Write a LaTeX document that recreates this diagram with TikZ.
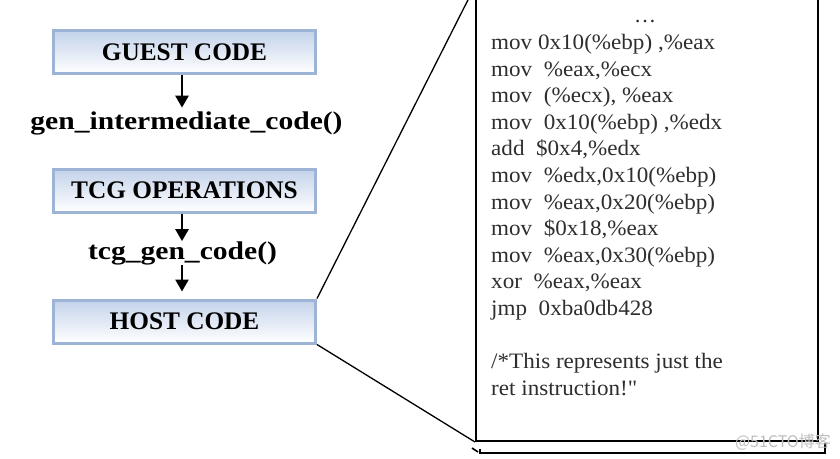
\documentclass[tikz,border=0pt]{standalone}
\usepackage{fontspec}
\setmainfont{Liberation Serif}
\newfontfamily\codefont{Liberation Serif}[Ligatures=TeXOff]
\newfontfamily\cjkwm{Noto Sans CJK SC}
\usepackage{graphicx}
\usetikzlibrary{arrows.meta}
\definecolor{boxline}{HTML}{9DB4D6}
\definecolor{boxtop}{HTML}{C3D2EA}
\definecolor{codetxt}{HTML}{2E2E2E}
\newcommand{\codetext}[1]{\scalebox{1.05}[1]{#1}}
\tikzset{
  flowbox/.style={draw=boxline, line width=3pt, top color=boxtop, bottom color=white,
    minimum width=262pt, minimum height=43pt, inner sep=0pt,
    font=\fontsize{25.3}{27}\selectfont\bfseries},
  fnlabel/.style={inner sep=0pt, font=\fontsize{25.5}{27}\selectfont\bfseries},
  flowarrow/.style={line width=2.5pt, -{Triangle[length=12pt,width=13pt]}},
  codeline/.style={anchor=base west, inner sep=0pt, text=codetxt,
    font=\codefont\fontsize{22}{26}\selectfont},
  linkline/.style={line width=1.3pt},
}
\begin{document}
\begin{tikzpicture}[x=1pt,y=-1pt]
\useasboundingbox (0,0) rectangle (840,458);
\clip (0,0) rectangle (840,458);
\fill[white] (0,0) rectangle (840,458);

% left flow
\node[flowbox] (guest) at (184.5,52) {GUEST CODE};
\node[fnlabel] (gen) at (186.5,123.5) {\scalebox{1.16}[1]{gen\_intermediate\_code()}};
\node[flowbox] (tcg) at (184.5,190.5) {TCG OPERATIONS};
\node[fnlabel] (tcgfn) at (182.5,253) {\scalebox{1.16}[1]{tcg\_gen\_code()}};
\node[flowbox] (host) at (184.5,321.5) {HOST CODE};

\draw[flowarrow, shorten >=4pt] ([xshift=-2.5pt]guest.south) -- ([xshift=-2.5pt]guest.south |- gen.north);
\draw[flowarrow] ([xshift=-2.5pt]tcg.south) -- ([xshift=-2.5pt]tcg.south |- tcgfn.north);
\draw[flowarrow, shorten >=7pt] ([xshift=-2.5pt]tcg.south |- tcgfn.south) -- ([xshift=-2.5pt]host.north);

% code box
\node[draw, line width=2pt, fill=white, minimum width=342pt, minimum height=454pt,
  inner sep=0pt, anchor=south west] (code) at (475,442) {};
\draw[line width=1.6pt] ([shift={(-3,6)}]code.south west) -- ([shift={(3,10)}]code.south west);
\draw[line width=2pt] ([shift={(5,7)}]code.south west) -- ([shift={(5,11)}]code.south west)
  -- ([shift={(6,11)}]code.south east) -- ([shift={(6,1)}]code.south east);

\draw[linkline] (host.north east) -- (code.north west);
\draw[linkline] (host.south east) -- (code.south west);

\node[codeline, anchor=base] (c0) at (645,22.5) {\ldots};
\node[codeline] (c1) at (491,49.5) {\codetext{mov 0x10(\%ebp) ,\%eax}};
\node[codeline] (c2) at (491,76.1) {\codetext{mov\ \ \%eax,\%ecx}};
\node[codeline] (c3) at (491,102.7) {\codetext{mov\ \ (\%ecx), \%eax}};
\node[codeline] (c4) at (491,129.3) {\codetext{mov\ \ 0x10(\%ebp) ,\%edx}};
\node[codeline] (c5) at (491,155.9) {\codetext{add\ \ \$0x4,\%edx}};
\node[codeline] (c6) at (491,182.5) {\codetext{mov\ \ \%edx,0x10(\%ebp)}};
\node[codeline] (c7) at (491,209.1) {\codetext{mov\ \ \%eax,0x20(\%ebp)}};
\node[codeline] (c8) at (491,235.7) {\codetext{mov\ \ \$0x18,\%eax}};
\node[codeline] (c9) at (491,262.3) {\codetext{mov\ \ \%eax,0x30(\%ebp)}};
\node[codeline] (c10) at (491,288.9) {\codetext{xor\ \ \%eax,\%eax}};
\node[codeline] (c11) at (491,315.5) {\codetext{jmp\ \ 0xba0db428}};
\node[codeline] (c12) at (491,368.7) {\codetext{/*This represents just the}};
\node[codeline] (c13) at (491,395.3) {\codetext{ret instruction!"}};

% watermark
\node[anchor=base east, inner sep=0pt, text=black!25, font=\cjkwm\fontsize{16}{17}\selectfont] (wm) at (831,447) {@51CTO博客};
\end{tikzpicture}
\end{document}
